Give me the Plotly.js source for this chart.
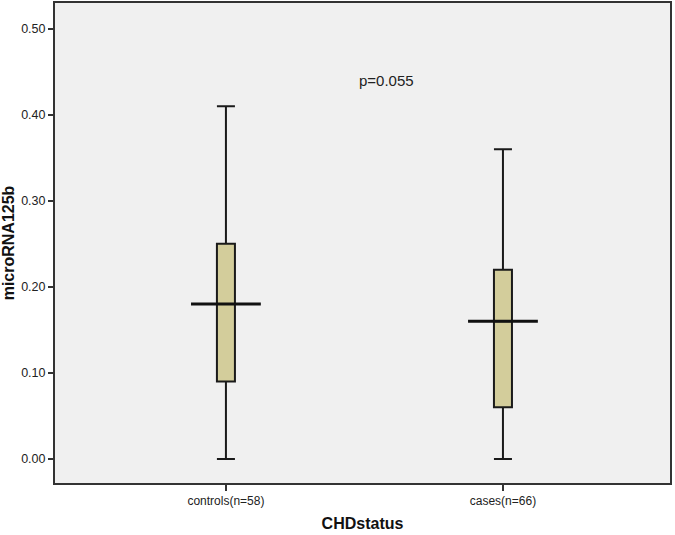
<!DOCTYPE html>
<html>
<head>
<meta charset="utf-8">
<script src="https://cdn.plot.ly/plotly-3.0.1.min.js"></script>
<style>
  body { margin: 0; background: #fff; }
  #boxChart { width: 675px; height: 535px; }
</style>
</head>
<body>
<div id="boxChart"></div>
<script>
// box summary values
const groups = ['controls(n=58)', 'cases(n=66)'];
const minVals = [0.00, 0.00];
const q1Vals = [0.09, 0.06];
const medianVals = [0.18, 0.16];
const q3Vals = [0.25, 0.22];
const maxVals = [0.41, 0.36];
const pText = 'p=0.055';

const boxFill = '#d3cd9b';
const halfMedian = 0.126; // median bar sticks out past the box

BOXCHART = document.getElementById('boxChart');

var boxTraces = groups.map(function(g, i){
    return {
        type: 'box',
        x: [i],
        q1: [q1Vals[i]],
        median: [medianVals[i]],
        q3: [q3Vals[i]],
        lowerfence: [minVals[i]],
        upperfence: [maxVals[i]],
        width: 0.065,
        whiskerwidth: 1,
        fillcolor: boxFill,
        line: {color: '#1a1a1a', width: 2},
        hoverinfo: 'skip',
        showlegend: false,
    };
});

var medianTraces = groups.map(function(g, i){
    return {
        type: 'scatter',
        mode: 'lines',
        x: [i - halfMedian, i + halfMedian],
        y: [medianVals[i], medianVals[i]],
        line: {color: '#111', width: 3},
        hoverinfo: 'skip',
        showlegend: false,
    };
});

var boxlayout = {
    width: 675,
    height: 535,
    margin: {"l": 55, "r": 5, "t": 3, "b": 52},
    paper_bgcolor: '#ffffff',
    plot_bgcolor: '#f0f0f0',
    font: {
        family: 'Liberation Sans, Arial, sans-serif',
        color: '#222',
        size: 12,
    },
    xaxis: {
        range: [-0.617, 1.603],
        tickvals: groups.map(function(g, i){ return i; }),
        ticktext: groups,
        ticks: 'outside',
        ticklen: 6,
        tickwidth: 1.5,
        tickcolor: '#333',
        showgrid: false,
        zeroline: false,
        showline: true,
        mirror: true,
        linecolor: '#333',
        linewidth: 2,
        tickfont: {size: 12},
        title: {
            text: 'CHDstatus',
            font: {size: 16, weight: 'bold', color: '#111'},
            standoff: 10,
        },
    },
    yaxis: {
        range: [-0.028, 0.530],
        tickvals: [0, 0.1, 0.2, 0.3, 0.4, 0.5],
        tickformat: '.2f',
        ticks: 'outside',
        ticklen: 5,
        tickwidth: 1.5,
        tickcolor: '#333',
        showgrid: false,
        zeroline: false,
        showline: true,
        mirror: true,
        linecolor: '#333',
        linewidth: 2,
        tickfont: {size: 12.5},
        title: {
            text: 'microRNA125b',
            font: {size: 16, weight: 'bold', color: '#111'},
            standoff: 4,
        },
    },
    annotations: [{
        x: 0.58,
        y: 0.44,
        xref: 'x',
        yref: 'y',
        text: pText,
        showarrow: false,
        font: {size: 15, color: '#222'},
    }],
};

var boxconfig = {
    displayModeBar: false,
    staticPlot: true,
};

Plotly.newPlot(BOXCHART, boxTraces.concat(medianTraces), boxlayout, boxconfig);
</script>
</body>
</html>
